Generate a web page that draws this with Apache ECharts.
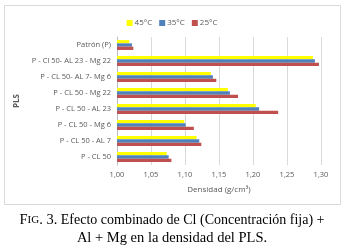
<!DOCTYPE html>
<html>
<head>
<meta charset="utf-8">
<script src="https://cdn.jsdelivr.net/npm/echarts@6/dist/echarts.min.js"></script>
<style>
  html, body { margin: 0; padding: 0; background: #fff; }
  #main { width: 344px; height: 250px; }
</style>
</head>
<body>
<div id="main"></div>
<script>
// bottom to top, as ECharts draws a category y axis
var categories = ['P - CL 50', 'P - CL 50 - AL 7', 'P - CL 50 - Mg 6', 'P - CL 50 - AL 23',
    'P - CL 50 - Mg 22', 'P - CL 50- AL 7- Mg 6', 'P - Cl 50- AL 23 - Mg 22', 'Patrón (P)'];
var t45 = [1.073, 1.117, 1.099, 1.204, 1.163, 1.138, 1.288, 1.018];
var t35 = [1.076, 1.121, 1.101, 1.209, 1.166, 1.141, 1.291, 1.022];
var t25 = [1.080, 1.124, 1.113, 1.237, 1.178, 1.146, 1.297, 1.024];
var xTicks = { min: 1.00, max: 1.30, step: 0.05 };

var labelFont = 'Open Sans';

var option = {
    animation: false,
    legend: {
        data: ['45°C', '35°C', '25°C'],
        top: 14,
        left: 'center',
        itemWidth: 6,
        itemHeight: 6,
        itemGap: 7,
        icon: 'rect',
        textStyle: { fontSize: 8, color: '#595959', fontFamily: labelFont, padding: [0, 0, 0, -3] }
    },
    grid: { left: 117, right: 23, top: 37, bottom: 85 },
    xAxis: {
        type: 'value',
        min: xTicks.min,
        max: xTicks.max,
        interval: xTicks.step,
        name: 'Densidad (g/cm³)',
        nameLocation: 'middle',
        nameGap: 21,
        nameTextStyle: { fontSize: 8, color: '#595959', fontFamily: labelFont },
        axisLine: { show: false },
        axisTick: { show: false },
        axisLabel: {
            fontSize: 7.5, color: '#595959', fontFamily: labelFont, margin: 6,
            formatter: function (v) { return v.toFixed(2).replace('.', ','); }
        },
        splitLine: { lineStyle: { color: '#d9d9d9', width: 1 } }
    },
    yAxis: {
        type: 'category',
        data: categories,
        name: 'PLS',
        nameLocation: 'middle',
        nameRotate: 90,
        nameGap: 92,
        nameTextStyle: { fontSize: 8, color: '#595959', fontFamily: labelFont, fontWeight: 'bold' },
        axisLine: { lineStyle: { color: '#bfbfbf' } },
        axisTick: { show: false },
        axisLabel: { fontSize: 7.5, color: '#595959', fontFamily: labelFont, margin: 6 }
    },
    // first series sits at the top of each group
    series: [
        { name: '45°C', type: 'bar', data: t45, itemStyle: { color: '#FFFF00' }, barGap: '0%', barCategoryGap: '38%' },
        { name: '35°C', type: 'bar', data: t35, itemStyle: { color: '#4F81BD' }, barGap: '0%', barCategoryGap: '38%' },
        { name: '25°C', type: 'bar', data: t25, itemStyle: { color: '#C0504D' }, barGap: '0%', barCategoryGap: '38%' }
    ],
    graphic: [
        {
            type: 'rect', silent: true, z: -1,
            shape: { x: 4.5, y: 5.5, width: 336, height: 199 },
            style: { fill: 'none', stroke: '#d9d9d9', lineWidth: 1 }
        },
        {
            type: 'text', left: 'center', top: 213,
            style: {
                text: '{sc|F}{scs|IG}{sc|. 3.} Efecto combinado de Cl (Concentración fija) +',
                fill: '#000', font: '14px "Liberation Serif"',
                rich: {
                    sc: { fontSize: 14.5, fontFamily: 'Liberation Serif' },
                    scs: { fontSize: 11, fontFamily: 'Liberation Serif' }
                }
            }
        },
        {
            type: 'text', left: 'center', top: 231,
            style: {
                text: 'Al + Mg en la densidad del PLS.',
                fill: '#000', font: '14.5px "Liberation Serif"'
            }
        }
    ]
};

var myChart = echarts.init(document.getElementById('main'));
myChart.setOption(option);
</script>
</body>
</html>
